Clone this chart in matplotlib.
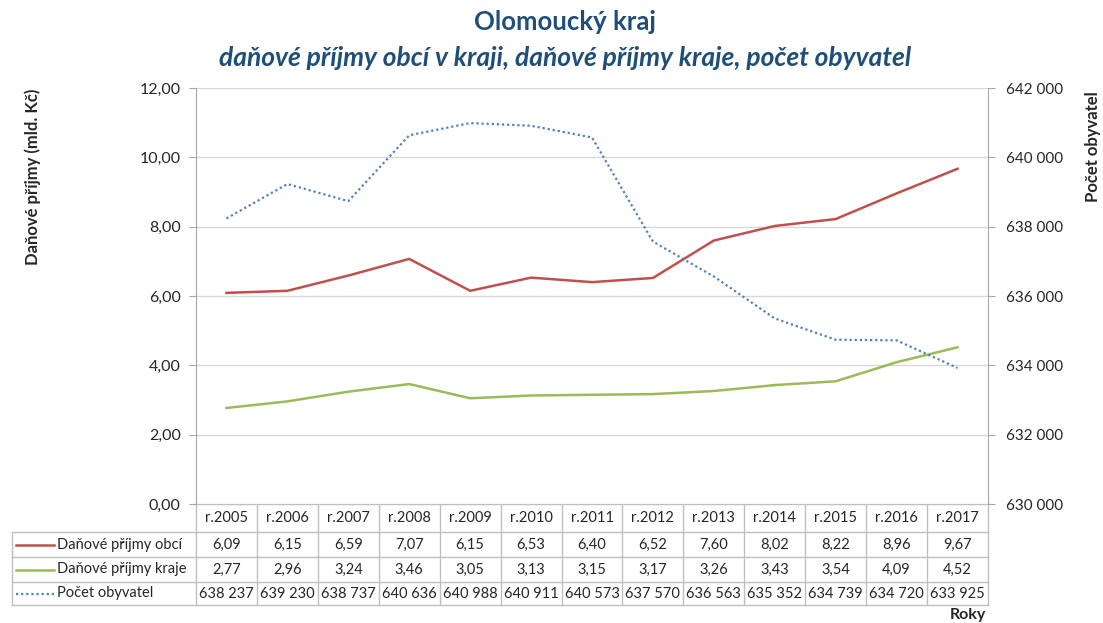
import matplotlib
matplotlib.use("Agg")
import matplotlib.pyplot as plt
from matplotlib.transforms import blended_transform_factory
from matplotlib.ticker import FuncFormatter, MultipleLocator

plt.rcParams['font.family'] = ['Lato', 'DejaVu Sans']

years = ["r.2005", "r.2006", "r.2007", "r.2008", "r.2009", "r.2010", "r.2011",
         "r.2012", "r.2013", "r.2014", "r.2015", "r.2016", "r.2017"]
prijmy_obci = [6.09, 6.15, 6.59, 7.07, 6.15, 6.53, 6.40, 6.52, 7.60, 8.02, 8.22, 8.96, 9.67]
prijmy_kraje = [2.77, 2.96, 3.24, 3.46, 3.05, 3.13, 3.15, 3.17, 3.26, 3.43, 3.54, 4.09, 4.52]
obyvatel = [638237, 639230, 638737, 640636, 640988, 640911, 640573, 637570, 636563,
            635352, 634739, 634720, 633925]
series_names = ["Daňové příjmy obcí", "Daňové příjmy kraje", "Počet obyvatel"]

RED = "#C0504D"
GREEN = "#9BBB59"
BLUE = "#4F81BD"
GRID = "#D9D9D9"
AXC = "#A6A6A6"
TXT = "#262626"
TITLE = "#1F4E79"

W, H = 1103, 623
fig = plt.figure(figsize=(W / 100, H / 100), dpi=100)

L, R, T, B = 196, 988, 88, 504
ax = fig.add_axes([L / W, (H - B) / H, (R - L) / W, (B - T) / H])
ax2 = ax.twinx()

x = list(range(len(years)))
ax.plot(x, prijmy_obci, color=RED, lw=1.8, zorder=3)
ax.plot(x, prijmy_kraje, color=GREEN, lw=1.8, zorder=3)
ax2.plot(x, obyvatel, color=BLUE, lw=1.6, ls=(0, (1, 1.3)), zorder=3)

ax.set_xlim(-0.5, len(years) - 0.5)
ax.set_ylim(0, 12)
ax.yaxis.set_major_locator(MultipleLocator(2))
ax.yaxis.set_major_formatter(FuncFormatter(lambda v, p: f"{v:.2f}".replace(".", ",")))
ax2.set_ylim(630000, 642000)
ax2.yaxis.set_major_locator(MultipleLocator(2000))
ax2.yaxis.set_major_formatter(FuncFormatter(lambda v, p: f"{int(v):,}".replace(",", " ")))

ax.set_xticks([])
ax.grid(axis="y", color=GRID, lw=1)
ax.set_axisbelow(True)
for a in (ax, ax2):
    for s in ("top", "bottom"):
        a.spines[s].set_visible(False)
ax.spines["right"].set_visible(False)
ax2.spines["left"].set_visible(False)
ax.spines["left"].set_color(AXC)
ax2.spines["right"].set_color(AXC)
ax.tick_params(axis="y", length=5, color=AXC, labelsize=11.5, labelcolor=TXT, pad=6)
ax2.tick_params(axis="y", length=5, color=AXC, labelsize=11, labelcolor=TXT, pad=8)
ax2.tick_params(axis="x", length=0)

# overlay axes in pixel coordinates
tax = fig.add_axes([0, 0, 1, 1], zorder=-1)
tax.set_xlim(0, W)
tax.set_ylim(H, 0)
tax.axis("off")
bt = blended_transform_factory(ax.transData, tax.transData)

# table
rows_y = [504, 532, 557, 582, 605]
n = len(years)
lc = "#BFBFBF"
for i in range(n + 1):
    tax.plot([i - 0.5, i - 0.5], [rows_y[0], rows_y[-1]], color=lc, lw=1, transform=bt)
for yy in rows_y[1:]:
    tax.plot([12, R], [yy, yy], color=lc, lw=1)
tax.plot([12, 12], [rows_y[1], rows_y[-1]], color=lc, lw=1)
tax.plot([L, R], [rows_y[0], rows_y[0]], color=lc, lw=1)

def fmt2(v):
    return f"{v:.2f}".replace(".", ",")

def fmtp(v):
    return f"{v:,}".replace(",", " ")

for i, yr in enumerate(years):
    tax.text(i, (rows_y[0] + rows_y[1]) / 2, yr, transform=bt,
             ha="center", va="center", fontsize=10.5, color=TXT)
    tax.text(i, (rows_y[1] + rows_y[2]) / 2, fmt2(prijmy_obci[i]), transform=bt,
             ha="center", va="center", fontsize=10.5, color=TXT)
    tax.text(i, (rows_y[2] + rows_y[3]) / 2, fmt2(prijmy_kraje[i]), transform=bt,
             ha="center", va="center", fontsize=10.5, color=TXT)
    tax.text(i, (rows_y[3] + rows_y[4]) / 2, fmtp(obyvatel[i]), transform=bt,
             ha="center", va="center", fontsize=10.5, color=TXT)

styles = [dict(color=RED, lw=1.8, ls="-"), dict(color=GREEN, lw=1.8, ls="-"),
          dict(color=BLUE, lw=1.6, ls=(0, (1, 1.3)))]
for k, name in enumerate(series_names):
    cy = (rows_y[k + 1] + rows_y[k + 2]) / 2
    tax.plot([16, 54], [cy, cy], **styles[k])
    tax.text(57, cy, name, ha="left", va="center", fontsize=10.5, color=TXT)

# titles and labels
fig.text(565 / W, 1 - 22 / H, "Olomoucký kraj", ha="center", va="center",
         fontsize=18.5, fontweight="bold", color=TITLE)
fig.text(565 / W, 1 - 58 / H, "daňové příjmy obcí v kraji, daňové příjmy kraje, počet obyvatel",
         ha="center", va="center", fontsize=19, fontweight="bold", style="italic", color=TITLE)
fig.text(33 / W, 1 - 177 / H, "Daňové příjmy (mld. Kč)", rotation=90, ha="center", va="center",
         fontsize=12, fontweight="bold", color=TXT)
fig.text(1093 / W, 1 - 147 / H, "Počet obyvatel", rotation=90, ha="center", va="center",
         fontsize=12, fontweight="bold", color=TXT)
fig.text(968 / W, 1 - 615 / H, "Roky", ha="center", va="center",
         fontsize=11.5, fontweight="bold", color=TXT)

fig.savefig("out.png", dpi=100)
